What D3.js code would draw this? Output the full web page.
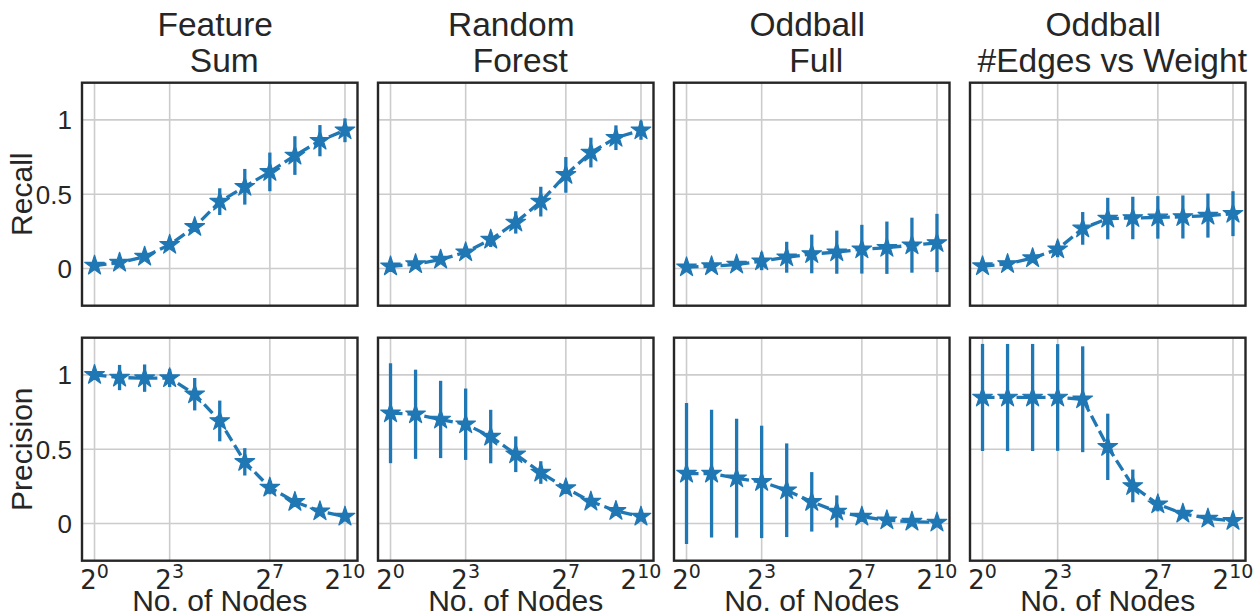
<!DOCTYPE html>
<html>
<head>
<meta charset="utf-8">
<script src="https://cdn.jsdelivr.net/npm/d3@7"></script>
<style>
  html, body { margin: 0; padding: 0; background: #ffffff; }
  svg { display: block; }
  text { font-family: "Liberation Sans", Arial, sans-serif; fill: #262626; }
</style>
</head>
<body>
<svg id="chart" width="1257" height="615"></svg>
<script>
// ---------- data ----------
const exponents = [0, 1, 2, 3, 4, 5, 6, 7, 8, 9, 10];
const xTickExponents = [0, 3, 7, 10];
const yTicks = [0, 0.5, 1];
const methods = [["Feature", "Sum"], ["Random", "Forest"], ["Oddball", "Full"], ["Oddball", "#Edges vs Weight"]];
const rowLabels = ["Recall", "Precision"];
const xLabel = "No. of Nodes";

const recallFeatureSum     = [0.02, 0.04, 0.08, 0.16, 0.28, 0.45, 0.55, 0.65, 0.76, 0.86, 0.93];
const recallFeatureSumErr  = [0.01, 0.01, 0.015, 0.02, 0.025, 0.09, 0.12, 0.13, 0.13, 0.105, 0.08];
const recallRandomForest   = [0.015, 0.03, 0.06, 0.11, 0.195, 0.31, 0.45, 0.63, 0.78, 0.88, 0.93];
const recallRandomForestErr= [0.01, 0.01, 0.015, 0.03, 0.05, 0.075, 0.10, 0.12, 0.10, 0.083, 0.064];
const recallOddballFull    = [0.009, 0.016, 0.027, 0.049, 0.076, 0.098, 0.11, 0.13, 0.14, 0.157, 0.172];
const recallOddballFullErr = [0.005, 0.01, 0.02, 0.06, 0.104, 0.13, 0.145, 0.164, 0.176, 0.185, 0.196];
const recallOddballEW      = [0.016, 0.031, 0.07, 0.13, 0.27, 0.336, 0.34, 0.344, 0.347, 0.356, 0.369];
const recallOddballEWErr   = [0.005, 0.01, 0.02, 0.054, 0.11, 0.14, 0.143, 0.143, 0.145, 0.148, 0.151];

const precFeatureSum       = [1.0, 0.982, 0.978, 0.978, 0.87, 0.69, 0.415, 0.242, 0.146, 0.083, 0.047];
const precFeatureSumErr    = [0.01, 0.085, 0.092, 0.06, 0.109, 0.137, 0.092, 0.045, 0.02, 0.015, 0.01];
const precRandomForest     = [0.742, 0.735, 0.70, 0.668, 0.585, 0.466, 0.343, 0.238, 0.148, 0.085, 0.047];
const precRandomForestErr  = [0.336, 0.30, 0.26, 0.24, 0.18, 0.12, 0.076, 0.04, 0.025, 0.015, 0.012];
const precOddballFull      = [0.336, 0.336, 0.305, 0.28, 0.224, 0.146, 0.081, 0.047, 0.022, 0.013, 0.007];
const precOddballFullErr   = [0.474, 0.43, 0.40, 0.378, 0.315, 0.20, 0.108, 0.035, 0.02, 0.012, 0.01];
const precOddballEW        = [0.848, 0.848, 0.848, 0.848, 0.836, 0.516, 0.253, 0.13, 0.067, 0.034, 0.018];
const precOddballEWErr     = [0.36, 0.36, 0.36, 0.359, 0.356, 0.223, 0.11, 0.048, 0.02, 0.012, 0.01];

const grid = [
  [[recallFeatureSum, recallFeatureSumErr], [recallRandomForest, recallRandomForestErr],
   [recallOddballFull, recallOddballFullErr], [recallOddballEW, recallOddballEWErr]],
  [[precFeatureSum, precFeatureSumErr], [precRandomForest, precRandomForestErr],
   [precOddballFull, precOddballFullErr], [precOddballEW, precOddballEWErr]]
];

// ---------- layout ----------
const color = "#1f77b4";
const panelLeft0 = 82, panelStep = 296, panelW = 275.5;
const rowTops = [82.7, 337.7], panelH = 223;

const svg = d3.select("#chart");

grid.forEach((row, r) => {
  row.forEach((cell, c) => {
    const x0 = panelLeft0 + c * panelStep;
    const y0 = rowTops[r];
    const x = d3.scaleLog().base(2).domain([Math.pow(2, -0.5), Math.pow(2, 10.5)]).range([x0, x0 + panelW]);
    const y = d3.scaleLinear().domain([-0.25, 1.25]).range([y0 + panelH, y0]);
    const g = svg.append("g");

    // gridlines
    g.append("g").selectAll("line").data(xTickExponents).join("line")
      .attr("x1", d => x(Math.pow(2, d))).attr("x2", d => x(Math.pow(2, d)))
      .attr("y1", y0).attr("y2", y0 + panelH)
      .attr("stroke", "#cccccc").attr("stroke-width", 1.6);
    g.append("g").selectAll("line").data(yTicks).join("line")
      .attr("x1", x0).attr("x2", x0 + panelW)
      .attr("y1", d => y(d)).attr("y2", d => y(d))
      .attr("stroke", "#cccccc").attr("stroke-width", 1.6);

    const [means, errs] = cell;
    const pts = exponents.map((e, i) => ({ n: Math.pow(2, e), m: means[i], s: errs[i] }));

    // error bars
    g.append("g").selectAll("line").data(pts).join("line")
      .attr("x1", d => x(d.n)).attr("x2", d => x(d.n))
      .attr("y1", d => y(d.m - d.s)).attr("y2", d => y(d.m + d.s))
      .attr("stroke", color).attr("stroke-width", 3.3);

    // dashed line
    g.append("path").datum(pts)
      .attr("d", d3.line().x(d => x(d.n)).y(d => y(d.m)))
      .attr("fill", "none").attr("stroke", color).attr("stroke-width", 3.3)
      .attr("stroke-dasharray", "12,5");

    // star markers
    g.append("g").selectAll("path").data(pts).join("path")
      .attr("transform", d => `translate(${x(d.n)},${y(d.m)})`)
      .attr("d", d3.symbol().type(d3.symbolStar).size(120))
      .attr("fill", color).attr("stroke", color).attr("stroke-width", 1.2)
      .attr("stroke-linejoin", "round");

    // frame
    g.append("rect").attr("x", x0).attr("y", y0).attr("width", panelW).attr("height", panelH)
      .attr("fill", "none").attr("stroke", "#262626").attr("stroke-width", 2.4);

    // y tick labels
    if (c === 0) {
      g.append("g").selectAll("text").data(yTicks).join("text")
        .attr("x", x0 - 10).attr("y", d => y(d)).attr("dy", "0.36em")
        .attr("text-anchor", "end").attr("font-size", 26)
        .text(d => d3.format("")(d));
      g.append("text")
        .attr("transform", `translate(${x0 - 50},${y0 + panelH / 2}) rotate(-90)`)
        .attr("text-anchor", "middle").attr("font-size", 30)
        .text(rowLabels[r]);
    }

    // x tick labels
    if (r === 1) {
      const t = g.append("g").selectAll("text").data(xTickExponents).join("text")
        .attr("x", d => x(Math.pow(2, d))).attr("y", y0 + panelH + 28.5)
        .attr("text-anchor", "middle")
        .style("font-family", "'DejaVu Sans', sans-serif");
      t.append("tspan").attr("font-size", 26).text("2");
      t.append("tspan").attr("font-size", 19).attr("dy", -11.5).text(d => d);
      g.append("text")
        .attr("x", x0 + panelW / 2).attr("y", 611)
        .attr("text-anchor", "middle").attr("font-size", 30)
        .text(xLabel);
    }

    // titles
    if (r === 0) {
      const [l1, l2] = methods[c];
      g.append("text").attr("x", x0 + panelW / 2 - 4.5).attr("y", 35.5)
        .attr("text-anchor", "middle").attr("font-size", 33.5).text(l1);
      g.append("text").attr("x", x0 + panelW / 2 + 4.5).attr("y", 72)
        .attr("text-anchor", "middle").attr("font-size", 33.5).text(l2);
    }
  });
});
</script>
</body>
</html>
